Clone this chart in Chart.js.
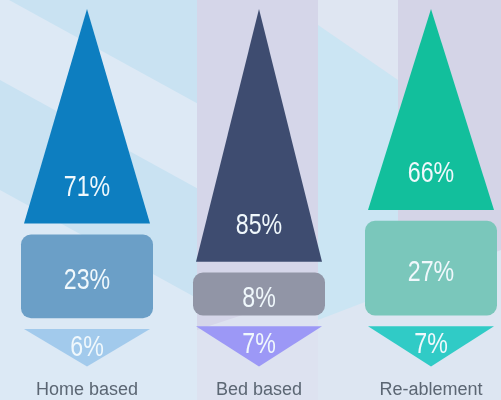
<!DOCTYPE html>
<html><head><meta charset="utf-8">
<script src="https://cdn.jsdelivr.net/npm/chart.js@4/dist/chart.umd.min.js"></script>
<style>html,body{margin:0;padding:0;background:#d6e6f3;}#wrap{width:501px;height:400px;position:relative}</style>
</head><body><div id="wrap"><canvas id="c" width="501" height="400"></canvas></div>
<script>
const categories = ['Home based', 'Bed based', 'Re-ablement'];
const topShare = [71, 85, 66];
const midShare = [23, 8, 27];
const lowShare = [6, 7, 7];

const topColors = ['#0d7ec0', '#3e4c70', '#12bf9c'];
const midColors = ['#6b9fc7', '#9195a6', '#7ac7bb'];
const lowColors = ['#a2caec', '#9c98f6', '#30cbc6'];

// visual padding added to every segment and gap between segments (value units)
const PAD = 7.7, GAP = 4.0;
const TOTAL = 100 + 3 * PAD + 2 * GAP;
const lowBars = lowShare.map(v => [0, v + PAD]);
const midBars = midShare.map((v, i) => { const s = lowShare[i] + PAD + GAP; return [s, s + v + PAD]; });
const topBars = topShare.map((v, i) => { const s = lowShare[i] + midShare[i] + 2 * PAD + 2 * GAP; return [s, s + v + PAD]; });

const FONT = "'Liberation Sans', Arial, sans-serif";

function poly(ctx, color, pts) {
  ctx.fillStyle = color;
  ctx.beginPath();
  ctx.moveTo(pts[0][0], pts[0][1]);
  for (let k = 1; k < pts.length; k++) ctx.lineTo(pts[k][0], pts[k][1]);
  ctx.closePath();
  ctx.fill();
}

const bgPlugin = {
  id: 'bg',
  beforeDraw(chart) {
    const ctx = chart.ctx;
    ctx.save();
    poly(ctx, '#c9e2f2', [[0,0],[197,0],[197,400],[0,400]]);
    const s = 0.55;
    poly(ctx, '#dde9f5', [[0,-5],[197,197*s-5],[197,197*s+80],[0,80]]);
    poly(ctx, '#dce9f5', [[0,190],[197,197*s+190],[197,400],[0,400]]);
    poly(ctx, '#d5d6e9', [[197,0],[318,0],[318,400],[197,400]]);
    poly(ctx, '#dde2f0', [[197,330],[318,290],[318,400],[197,400]]);
    poly(ctx, '#cbe5f3', [[318,0],[398,0],[398,400],[318,400]]);
    poly(ctx, '#dfe6f2', [[318,0],[398,0],[398,80],[318,25]]);
    poly(ctx, '#d4d4e7', [[398,0],[501,0],[501,400],[398,400]]);
    poly(ctx, '#dde6f2', [[318,320],[501,250],[501,400],[318,400]]);
    ctx.restore();
  }
};

const shapePlugin = {
  id: 'shapes',
  beforeDatasetDraw(chart, args) {
    const ds = chart.data.datasets[args.index];
    const ctx = chart.ctx;
    ctx.save();
    args.meta.data.forEach((el, i) => {
      const p = el.getProps(['x', 'y', 'base', 'width'], true);
      const top = Math.min(p.y, p.base), bot = Math.max(p.y, p.base);
      const w = p.width, l = p.x - w / 2, r = p.x + w / 2;
      ctx.fillStyle = ds.backgroundColor[i];
      ctx.beginPath();
      let ty;
      if (ds.shape === 'up') {
        ctx.moveTo(p.x, top); ctx.lineTo(r, bot); ctx.lineTo(l, bot); ctx.closePath();
        ty = bot - 36;
      } else if (ds.shape === 'down') {
        ctx.moveTo(l, top); ctx.lineTo(r, top); ctx.lineTo(p.x, bot); ctx.closePath();
        ty = top + 19;
      } else {
        ctx.roundRect(l, top, w, bot - top, 10);
        ty = (top + bot) / 2 + 5;
      }
      ctx.fill();
      ctx.save();
      ctx.translate(p.x, ty);
      ctx.scale(0.8, 1);
      ctx.fillStyle = '#f0f8fc';
      ctx.font = '29px ' + FONT;
      ctx.textAlign = 'center';
      ctx.textBaseline = 'middle';
      ctx.fillText(ds.shares[i] + '%', 0, 0);
      ctx.restore();
    });
    ctx.restore();
    return false;
  }
};

new Chart(document.getElementById('c'), {
  type: 'bar',
  data: {
    labels: categories,
    datasets: [
      { label: 'Top', data: topBars, shares: topShare, shape: 'up', backgroundColor: topColors, barThickness: 126 },
      { label: 'Middle', data: midBars, shares: midShare, shape: 'rect', backgroundColor: midColors, barThickness: 132 },
      { label: 'Bottom', data: lowBars, shares: lowShare, shape: 'down', backgroundColor: lowColors, barThickness: 126 }
    ]
  },
  options: {
    responsive: false,
    animation: false,
    layout: { padding: { left: 87, right: 70, top: 9, bottom: -6 } },
    plugins: { legend: { display: false }, tooltip: { enabled: false } },
    scales: {
      x: {
        stacked: true,
        offset: false,
        grid: { display: false },
        border: { display: false },
        ticks: { color: '#5b6673', font: { family: FONT, size: 18 }, padding: 5, maxRotation: 0, autoSkip: false }
      },
      y: { stacked: false, display: false, min: 0, max: TOTAL }
    }
  },
  plugins: [bgPlugin, shapePlugin]
});
</script></body></html>
